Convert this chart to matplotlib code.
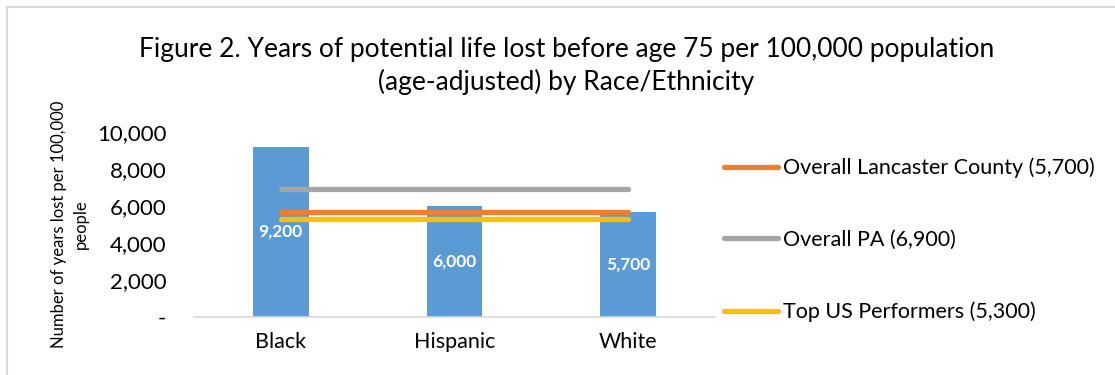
import matplotlib.pyplot as plt
from matplotlib.lines import Line2D

plt.rcParams['font.family'] = ['Lato', 'DejaVu Sans']

groups = ["Black", "Hispanic", "White"]
ypll = [9200, 6000, 5700]
bar_labels = ["9,200", "6,000", "5,700"]

ref_names = ["Overall Lancaster County (5,700)", "Overall PA (6,900)", "Top US Performers (5,300)"]
ref_values = [5700, 6900, 5300]
ref_colors = ["#ED7D31", "#A5A5A5", "#FFC000"]

yticks = [0, 2000, 4000, 6000, 8000, 10000]
ytick_labels = ["-", "2,000", "4,000", "6,000", "8,000", "10,000"]

fig = plt.figure(figsize=(11.15, 3.75), dpi=100)
ax = fig.add_axes([0.174, 0.1547, 0.467, 0.4933])

x = range(len(groups))
bars = ax.bar(x, ypll, width=0.32, color="#5B9BD5", zorder=2)
for b, lab in zip(bars, bar_labels):
    ax.text(b.get_x() + b.get_width() / 2, b.get_height() / 2, lab,
            ha="center", va="center", color="white", fontsize=12.5,
            fontweight="bold", zorder=4)

# reference lines span from first to last category
for val, col in zip(ref_values, ref_colors):
    ax.plot([0, len(groups) - 1], [val, val], color=col, lw=3.8,
            solid_capstyle="round", zorder=3)

ax.set_xlim(-0.5, len(groups) - 0.5)
ax.set_ylim(0, 10000)
ax.set_xticks(list(x))
ax.set_xticklabels(groups, fontsize=15.5)
ax.set_yticks(yticks)
ax.set_yticklabels(ytick_labels, fontsize=16)
ax.tick_params(axis="both", length=0)
ax.tick_params(axis="x", pad=11)
ax.tick_params(axis="y", pad=20)
for s in ["top", "right", "left"]:
    ax.spines[s].set_visible(False)
ax.spines["bottom"].set_color("#D9D9D9")
ax.spines["bottom"].set_linewidth(1.2)

ax.set_ylabel("Number of years lost per 100,000\npeople", fontsize=12,
              linespacing=1.45)
ax.yaxis.set_label_coords(-0.202, 0.5)

fig.text(0.508, 0.824,
         "Figure 2. Years of potential life lost before age 75 per 100,000 population\n"
         "(age-adjusted) by Race/Ethnicity",
         ha="center", va="center", fontsize=19, linespacing=1.35)

handles = [Line2D([], [], color=c, lw=3.8, solid_capstyle="round") for c in ref_colors]
fig.legend(handles, ref_names, loc="center left", bbox_to_anchor=(0.642, 0.36),
           frameon=False, fontsize=15.5, handlelength=2.5, handletextpad=0.2,
           labelspacing=2.4, borderaxespad=0)

# chart area border (top and left edges)
fig.add_artist(Line2D([7 / 1115, 1], [1 - 7 / 375, 1 - 7 / 375],
                      transform=fig.transFigure, color="#D9D9D9", lw=1.5))
fig.add_artist(Line2D([7 / 1115, 7 / 1115], [0, 1 - 7 / 375],
                      transform=fig.transFigure, color="#D9D9D9", lw=1.5))

fig.savefig("out.png", dpi=100)
